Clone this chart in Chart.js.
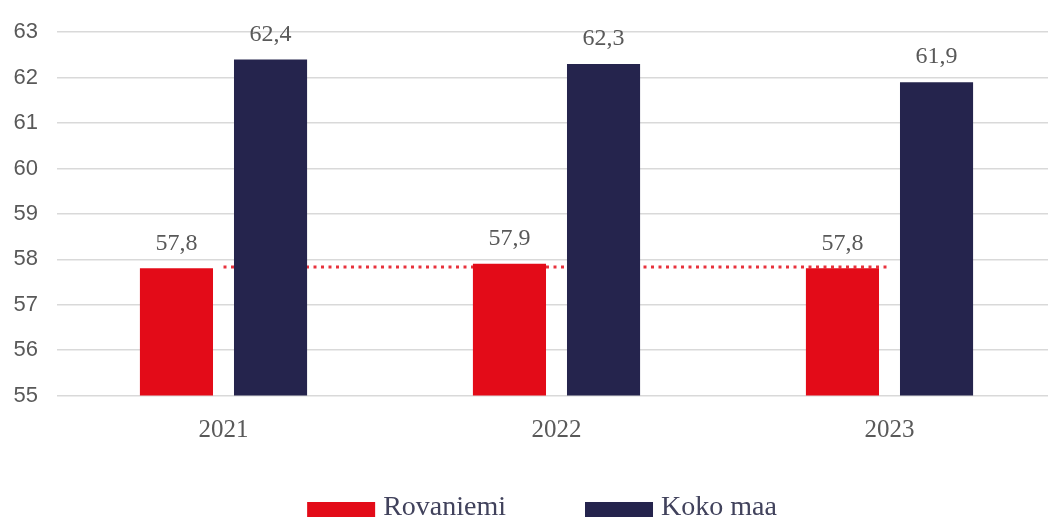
<!DOCTYPE html>
<html>
<head>
<meta charset="utf-8">
<script src="https://cdn.jsdelivr.net/npm/chart.js@4.4.0/dist/chart.umd.min.js"></script>
<style>
    html, body { margin: 0; padding: 0; background: #fff; overflow: hidden; }
</style>
</head>
<body>
<canvas id="chart" width="1056" height="518"></canvas>
<script>
const years = ['2021', '2022', '2023'];
const rovaniemi = [57.8, 57.9, 57.8];
const kokoMaa = [62.4, 62.3, 61.9];
const rovaniemiTrend = [57.83, 57.83, 57.83];
const yMin = 55;
const yMax = 63;

const RED = '#e30b18';
const NAVY = '#25244d';
const TEXT = '#595959';

function fmt(v) {
    return v.toFixed(1).replace('.', ',');
}

// value labels above the bars
const valueLabels = {
    id: 'valueLabels',
    afterDatasetsDraw(chart) {
        const ctx = chart.ctx;
        ctx.save();
        ctx.font = '24px "Liberation Serif"';
        ctx.fillStyle = TEXT;
        ctx.textAlign = 'center';
        ctx.textBaseline = 'middle';
        chart.data.datasets.forEach((ds, i) => {
            if (ds.type === 'line') return;
            chart.getDatasetMeta(i).data.forEach((bar, j) => {
                ctx.fillText(fmt(ds.data[j]), bar.x, bar.y - 25);
            });
        });
        ctx.restore();
    }
};

// legend at the bottom, only the bar series
const bottomLegend = {
    id: 'bottomLegend',
    afterDraw(chart) {
        const ctx = chart.ctx;
        const items = chart.data.datasets.filter(ds => ds.type !== 'line');
        const boxW = 68, boxH = 15, gap = 8, spacing = 79;
        ctx.save();
        ctx.font = '28px "Liberation Serif"';
        let total = 0;
        items.forEach((ds, i) => {
            total += boxW + gap + ctx.measureText(ds.label).width;
            if (i > 0) total += spacing;
        });
        let x = 542 - total / 2;
        items.forEach(ds => {
            ctx.fillStyle = ds.backgroundColor;
            ctx.fillRect(x, 502, boxW, boxH);
            x += boxW + gap;
            ctx.fillStyle = '#41425c';
            ctx.textBaseline = 'alphabetic';
            ctx.fillText(ds.label, x, 515);
            x += ctx.measureText(ds.label).width + spacing;
        });
        ctx.restore();
    }
};

new Chart(document.getElementById('chart'), {
    type: 'bar',
    data: {
        labels: years,
        datasets: [
            {
                label: 'Rovaniemi',
                data: rovaniemi,
                backgroundColor: RED,
                categoryPercentage: 0.565,
                barPercentage: 0.777
            },
            {
                label: 'Koko maa',
                data: kokoMaa,
                backgroundColor: NAVY,
                categoryPercentage: 0.565,
                barPercentage: 0.777
            },
            {
                type: 'line',
                label: 'Trendi',
                data: rovaniemiTrend,
                borderColor: '#e8323c',
                borderWidth: 3,
                borderDash: [3, 4.5],
                pointRadius: 0,
                fill: false
            }
        ]
    },
    options: {
        responsive: false,
        animation: false,
        layout: { padding: { top: 27, left: 0, right: 0, bottom: 0 } },
        plugins: {
            legend: { display: false },
            tooltip: { enabled: false }
        },
        scales: {
            x: {
                grid: { display: false, drawTicks: false },
                border: { display: false },
                ticks: {
                    color: TEXT,
                    font: { family: '"Liberation Serif"', size: 25 },
                    padding: 20
                },
                afterFit(scale) { scale.height = 122.5; }
            },
            y: {
                min: yMin,
                max: yMax,
                grid: { color: '#d9d9d9', lineWidth: 1.5, drawTicks: false },
                border: { display: false },
                ticks: {
                    stepSize: 1,
                    color: TEXT,
                    font: { family: '"Liberation Sans"', size: 22 },
                    padding: 19
                },
                afterFit(scale) { scale.width = 57; }
            }
        }
    },
    plugins: [valueLabels, bottomLegend]
});
</script>
</body>
</html>
